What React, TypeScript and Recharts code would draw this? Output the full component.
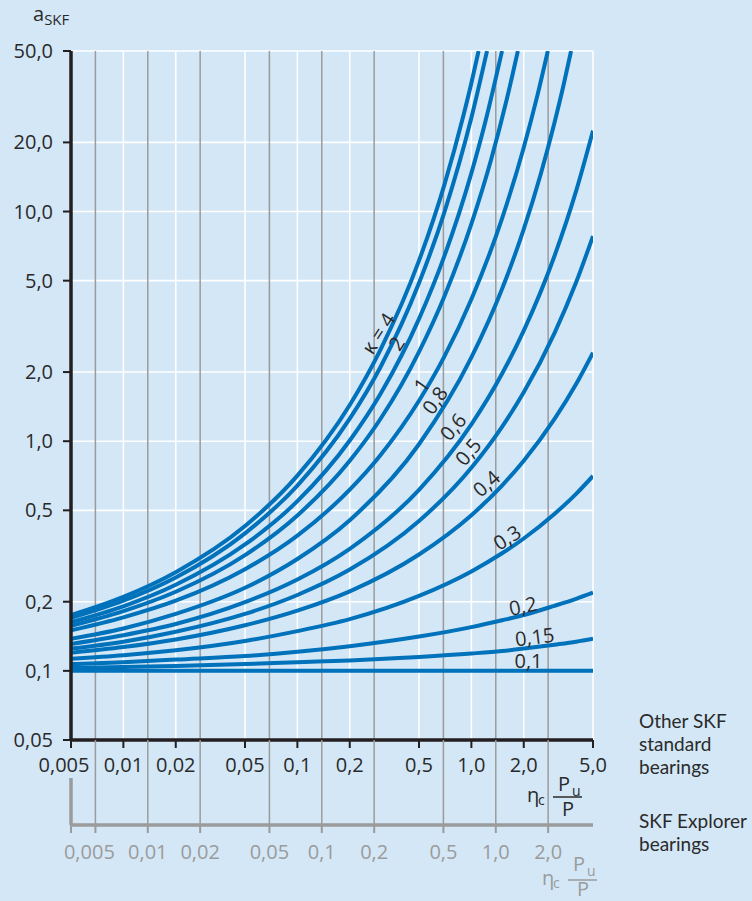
import React from 'react';
import { LineChart, Line, XAxis, YAxis, CartesianGrid, ReferenceLine, ReferenceDot } from 'recharts';

// ---------- axis ticks ----------
const X_TICKS = [0.005, 0.01, 0.02, 0.05, 0.1, 0.2, 0.5, 1, 2, 5];
const X_LABELS = ['0,005', '0,01', '0,02', '0,05', '0,1', '0,2', '0,5', '1,0', '2,0', '5,0'];
const Y_TICKS = [0.05, 0.1, 0.2, 0.5, 1, 2, 5, 10, 20, 50];
const Y_LABELS = ['0,05', '0,1', '0,2', '0,5', '1,0', '2,0', '5,0', '10,0', '20,0', '50,0'];
const EXPLORER_DOMAIN = [0.00362, 3.62];
const EXPLORER_TICKS = [0.00362, 0.005, 0.01, 0.02, 0.05, 0.1, 0.2, 0.5, 1, 2];
const EXPLORER_LABELS = ['', '0,005', '0,01', '0,02', '0,05', '0,1', '0,2', '0,5', '1,0', '2,0'];

// ---------- curves (eta_c * Pu/P  ->  a_SKF) ----------
const ETA_FULL = [0.005, 0.01, 0.02, 0.05, 0.1, 0.2, 0.5, 1, 1.5, 2, 3, 4, 5];

const ETA_A = [0.005, 0.01, 0.02, 0.05, 0.1, 0.2, 0.3, 0.5, 0.7, 0.9, 1.0, 1.1];
const ASKF_A = [0.175, 0.21, 0.269, 0.427, 0.708, 1.438, 2.5, 6.11, 13.1, 26.2, 36.3, 50];

const ETA_B = [0.005, 0.01, 0.02, 0.05, 0.1, 0.2, 0.3, 0.5, 0.7, 1.0, 1.23];
const ASKF_B = [0.17, 0.202, 0.255, 0.397, 0.641, 1.253, 2.1, 4.88, 9.95, 25.6, 50];

const ETA_C = [0.005, 0.01, 0.02, 0.05, 0.1, 0.2, 0.3, 0.5, 0.7, 1.0, 1.2, 1.5];
const ASKF_C = [0.163, 0.191, 0.237, 0.355, 0.548, 1.007, 1.605, 3.41, 6.41, 14.7, 24.4, 50];

const ETA_D = [0.005, 0.01, 0.02, 0.05, 0.1, 0.2, 0.3, 0.5, 0.7, 1.0, 1.3, 1.6, 1.85];
const ASKF_D = [0.157, 0.182, 0.221, 0.319, 0.475, 0.822, 1.249, 2.45, 4.28, 8.84, 16.9, 31.0, 50];

const ETA_E = [0.005, 0.01, 0.02, 0.05, 0.1, 0.2, 0.3, 0.5, 0.7, 1.0, 1.5, 2.0, 2.4, 2.75];
const ASKF_E = [0.15, 0.171, 0.202, 0.277, 0.388, 0.615, 0.869, 1.5, 2.34, 4.15, 9.32, 19.0, 32.2, 50];

const ETA_F = [0.005, 0.01, 0.02, 0.05, 0.1, 0.2, 0.5, 1, 1.5, 2, 2.5, 3, 3.4, 3.74];
const ASKF_F = [0.138, 0.153, 0.177, 0.23, 0.307, 0.453, 0.97, 2.315, 4.6, 8.38, 14.5, 24.3, 36.0, 50];

const ASKF_G = [0.131, 0.143, 0.16, 0.199, 0.25, 0.34, 0.614, 1.183, 1.965, 3.03, 6.39, 12.3, 22.5];
const ASKF_H = [0.125, 0.134, 0.148, 0.177, 0.214, 0.276, 0.449, 0.767, 1.155, 1.633, 2.95, 4.92, 7.82];
const ASKF_I = [0.12, 0.127, 0.137, 0.158, 0.183, 0.222, 0.321, 0.476, 0.641, 0.822, 1.247, 1.774, 2.43];
const ASKF_J = [0.113, 0.117, 0.123, 0.135, 0.149, 0.168, 0.212, 0.271, 0.325, 0.377, 0.482, 0.59, 0.706];
const ASKF_K = [0.107, 0.109, 0.112, 0.116, 0.121, 0.128, 0.141, 0.155, 0.166, 0.175, 0.192, 0.206, 0.219];
const ASKF_L = [0.103, 0.104, 0.105, 0.107, 0.109, 0.111, 0.115, 0.119, 0.122, 0.125, 0.13, 0.134, 0.138];
const ASKF_M = [0.1, 0.1, 0.1, 0.1, 0.1, 0.1, 0.1, 0.1, 0.1, 0.1, 0.1, 0.1, 0.1];

// curve annotations: text, eta, a_SKF, rotation
const LABEL_TEXT = ['κ = 4', '2', '1', '0,8', '0,6', '0,5', '0,4', '0,3', '0,2', '0,15', '0,1'];
const LABEL_ETA = [0.291, 0.371, 0.516, 0.615, 0.783, 0.955, 1.218, 1.6, 1.976, 2.31, 2.13];
const LABEL_ASKF = [2.95, 2.67, 1.756, 1.51, 1.156, 0.9, 0.655, 0.381, 0.192, 0.141, 0.1115];
const LABEL_ANGLE = [-57, -57, -55, -55, -50, -50, -42, -33, -12, -7, 0];

// side captions
const STD_CAPTION = ['Other SKF', 'standard', 'bearings'];
const EXP_CAPTION = ['SKF Explorer', 'bearings'];

// ---------- styles ----------
const BG = '#d3e7f6';
const BLUE = '#0071bb';
const DARK = '#2a2a2a';
const GRAY = '#9b9b9b';
const FONT = '"Open Sans", "Noto Sans", sans-serif';
const CAPTION_FONT = 'Lato, "Open Sans", sans-serif';

const STD = 'a_std';
const EXP = 'b_exp';

const zip = (xs: number[], ys: number[]) => xs.map((x, i) => ({ x, a: ys[i] }));

const CURVES = [
  zip(ETA_A, ASKF_A),
  zip(ETA_B, ASKF_B),
  zip(ETA_C, ASKF_C),
  zip(ETA_D, ASKF_D),
  zip(ETA_E, ASKF_E),
  zip(ETA_F, ASKF_F),
  zip(ETA_FULL, ASKF_G),
  zip(ETA_FULL, ASKF_H),
  zip(ETA_FULL, ASKF_I),
  zip(ETA_FULL, ASKF_J),
  zip(ETA_FULL, ASKF_K),
  zip(ETA_FULL, ASKF_L),
  zip(ETA_FULL, ASKF_M),
];

const EXPLORER_ROWS = EXPLORER_TICKS.map((e) => ({ e }));

const LABELS = LABEL_TEXT.map((t, i) => ({ t, x: LABEL_ETA[i], a: LABEL_ASKF[i], ang: LABEL_ANGLE[i] }));

const labelFor = (ticks: number[], labels: string[], v: number) => {
  let best = 0;
  ticks.forEach((t, i) => {
    if (Math.abs(Math.log(t) - Math.log(v)) < Math.abs(Math.log(ticks[best]) - Math.log(v))) best = i;
  });
  return labels[best];
};

const YTick = (p: any) => (
  <text x={p.x} y={p.y} dy={7} textAnchor="end" fill={DARK} fontSize={20} fontFamily={FONT}>
    {labelFor(Y_TICKS, Y_LABELS, p.payload.value)}
  </text>
);

const XTick = (p: any) => {
  const lab = labelFor(X_TICKS, X_LABELS, p.payload.value);
  const shift = p.payload.value === X_TICKS[0] ? -7 : 0;
  return (
    <text x={p.x + shift} y={p.y + 24} textAnchor="middle" fill={DARK} fontSize={20} fontFamily={FONT}>
      {lab}
    </text>
  );
};

const ExpTick = (p: any) => {
  const axisY = p.y - 8;
  const first = p.payload.value === EXPLORER_TICKS[0];
  const lab = labelFor(EXPLORER_TICKS, EXPLORER_LABELS, p.payload.value);
  const shift = p.payload.value === EXPLORER_TICKS[1] ? -6 : 0;
  return (
    <g>
      {first ? (
        <line x1={p.x} x2={p.x} y1={axisY - 47} y2={axisY} stroke={GRAY} strokeWidth={3.5} />
      ) : (
        <line x1={p.x} x2={p.x} y1={axisY - 85} y2={axisY} stroke={GRAY} strokeWidth={1.5} />
      )}
      <text x={p.x + shift} y={p.y + 26} textAnchor="middle" fill={GRAY} fontSize={20} fontFamily={FONT}>
        {lab}
      </text>
    </g>
  );
};

const Fraction = ({ x, y, color, num, den }: { x: number; y: number; color: string; num: number; den: number }) => (
  <g fill={color} fontFamily={FONT}>
    <text x={x} y={y + 5} fontSize={20}>η</text>
    <text x={x + 11} y={y + 8} fontSize={14}>c</text>
    <line x1={x + 26} x2={x + 55} y1={y} y2={y} stroke={color} strokeWidth={1.5} />
    <text x={x + 31} y={y + num} fontSize={20}>P</text>
    <text x={x + 45} y={y + num + 5} fontSize={14}>u</text>
    <text x={x + 35} y={y + den} fontSize={20}>P</text>
  </g>
);

const Caption = ({ x, y, lines }: { x: number; y: number; lines: string[] }) => (
  <text x={x} y={y} fill={DARK} fontFamily={CAPTION_FONT} fontSize={19}>
    {lines.map((ln, i) => (
      <tspan key={ln + i} x={x} dy={i === 0 ? 0 : 23}>
        {ln}
      </tspan>
    ))}
  </text>
);

const StdTitle = (p: any) => {
  const vb = p.viewBox;
  const right = vb.x + vb.width;
  return (
    <g>
      <Fraction x={right - 66} y={vb.y + 57} color={DARK} num={-6} den={19} />
      <Caption x={right + 46} y={vb.y - 12} lines={STD_CAPTION} />
    </g>
  );
};

const ExpTitle = (p: any) => {
  const vb = p.viewBox;
  const right = vb.x + vb.width;
  return (
    <g>
      <Fraction x={right - 51} y={vb.y + 55} color={GRAY} num={-9} den={16} />
      <Caption x={right + 46} y={vb.y + 3} lines={EXP_CAPTION} />
    </g>
  );
};

const YTitle = (p: any) => {
  const vb = p.viewBox;
  return (
    <text x={33} y={vb.y - 30} fill={DARK} fontFamily={FONT} fontSize={20}>
      a
      <tspan fontSize={15} dy={4}>
        SKF
      </tspan>
    </text>
  );
};

const CurveLabel = (ang: number, t: string) => (p: any) => (
  <text
    x={p.cx}
    y={p.cy}
    transform={`rotate(${ang} ${p.cx} ${p.cy})`}
    textAnchor="middle"
    dominantBaseline="central"
    fill={DARK}
    fontSize={20}
    fontFamily={FONT}
  >
    {t}
  </text>
);

export default function App() {
  return (
    <div style={{ position: 'absolute', left: 0, top: 0, width: 752, height: 901, background: BG }}>
      <LineChart
        width={752}
        height={901}
        data={EXPLORER_ROWS}
        margin={{ top: 51, right: 159, bottom: 0, left: 0 }}
      >
        <CartesianGrid xAxisId={STD} stroke="#ffffff" strokeWidth={1.6} />
        {EXPLORER_TICKS.slice(1).map((v) => (
          <ReferenceLine key={`g${v}`} xAxisId={EXP} x={v} stroke={GRAY} strokeWidth={1.5} />
        ))}
        {CURVES.map((d, i) => (
          <Line
            key={`c${i}`}
            xAxisId={STD}
            data={d}
            dataKey="a"
            type="monotone"
            stroke={BLUE}
            strokeWidth={4}
            dot={false}
            activeDot={false}
            isAnimationActive={false}
          />
        ))}
        {LABELS.map((l, i) => (
          <ReferenceDot
            key={`l${i}`}
            xAxisId={STD}
            x={l.x}
            y={l.a}
            r={0}
            shape={CurveLabel(l.ang, l.t)}
          />
        ))}
        <XAxis
          xAxisId={STD}
          dataKey="x"
          type="number"
          scale="log"
          domain={[0.005, 5]}
          allowDataOverflow
          ticks={X_TICKS}
          height={85}
          tickSize={8}
          tickMargin={0}
          axisLine={{ stroke: '#231f20', strokeWidth: 3.5 }}
          tickLine={{ stroke: '#231f20', strokeWidth: 2 }}
          tick={XTick}
          interval={0}
          label={{ content: StdTitle }}
        />
        <XAxis
          xAxisId={EXP}
          dataKey="e"
          type="number"
          scale="log"
          domain={EXPLORER_DOMAIN}
          allowDataOverflow
          ticks={EXPLORER_TICKS}
          height={76}
          tickSize={8}
          tickMargin={0}
          axisLine={{ stroke: GRAY, strokeWidth: 3.5 }}
          tickLine={{ stroke: GRAY, strokeWidth: 2 }}
          tick={ExpTick}
          interval={0}
          label={{ content: ExpTitle }}
        />
        <YAxis
          type="number"
          scale="log"
          domain={[0.05, 50]}
          allowDataOverflow
          ticks={Y_TICKS}
          width={71}
          tickSize={8}
          tickMargin={10}
          axisLine={{ stroke: '#231f20', strokeWidth: 3.5 }}
          tickLine={{ stroke: '#231f20', strokeWidth: 2 }}
          tick={YTick}
          interval={0}
          label={{ content: YTitle }}
        />
      </LineChart>
    </div>
  );
}
